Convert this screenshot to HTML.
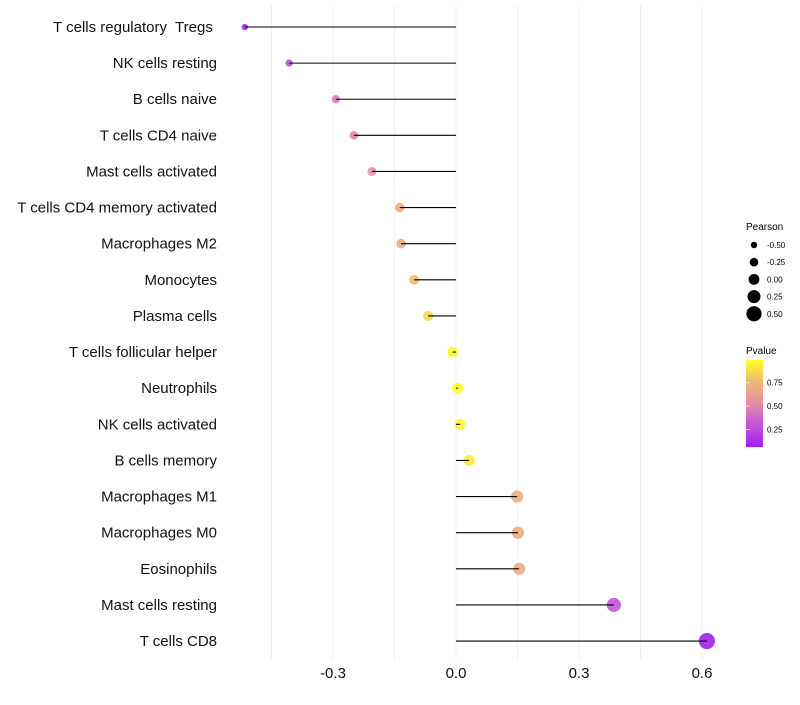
<!DOCTYPE html>
<html><head><meta charset="utf-8"><style>
body{margin:0;background:#fff;font-family:"Liberation Sans",sans-serif}
svg text{font-family:"Liberation Sans",sans-serif}
</style></head><body>
<svg id="chart" width="800" height="700">
<defs><linearGradient id="pg" x1="0" y1="1" x2="0" y2="0">
<stop offset="0" stop-color="#a020f0"/><stop offset="0.3" stop-color="#c95fcf"/><stop offset="0.5" stop-color="#e08fa5"/><stop offset="0.75" stop-color="#f0b873"/><stop offset="1" stop-color="#ffff20"/></linearGradient></defs>
<g id="grid"></g>
<g id="marks"></g>
<g id="ylabels"></g>
<g id="xlabels"></g>
<g>
<text x="746" y="230" font-size="10">Pearson</text>
<g id="sizeleg"></g>
</g>
<g>
<text x="746" y="354" font-size="10">Pvalue</text>
<rect x="746" y="360" width="17" height="87" fill="url(#pg)"/>
<g id="colleg"></g>
</g>
</svg>
<script>
const categories=["T cells regulatory  Tregs","NK cells resting","B cells naive","T cells CD4 naive","Mast cells activated","T cells CD4 memory activated","Macrophages M2","Monocytes","Plasma cells","T cells follicular helper","Neutrophils","NK cells activated","B cells memory","Macrophages M1","Macrophages M0","Eosinophils","Mast cells resting","T cells CD8"];
const pearson=[-0.515,-0.407,-0.293,-0.249,-0.205,-0.137,-0.134,-0.102,-0.068,-0.008,0.004,0.01,0.032,0.149,0.151,0.154,0.385,0.612];
const pvalues=[0.1,0.25,0.45,0.5,0.55,0.7,0.7,0.78,0.86,0.97,0.98,0.96,0.92,0.7,0.7,0.7,0.3,0.05];
const xTicks=[-0.3,0,0.3,0.6];
const xTickLabels=["-0.3","0.0","0.3","0.6"];
const minorTicks=[-0.45,-0.15,0.15,0.45];
const sizeLegendVals=[-0.5,-0.25,0,0.25,0.5];
const sizeLegendLabels=["-0.50","-0.25","0.00","0.25","0.50"];
const colorLegendVals=[0.25,0.5,0.75];
const colorLegendLabels=["0.25","0.50","0.75"];
const NS="http://www.w3.org/2000/svg";
const X=v=>456+v*410;
const Y=i=>27+i*36.12;
const R=v=>Math.max(2,5.4+4.4*v);
const stops=[[0,[160,32,240]],[0.3,[201,95,207]],[0.5,[224,143,165]],[0.75,[240,184,115]],[1,[255,255,32]]];
const PV=p=>{const t=Math.min(1,Math.max(0,(p-0.07)/0.92));for(let k=1;k<stops.length;k++){if(t<=stops[k][0]){const a=stops[k-1],b=stops[k],f=(t-a[0])/(b[0]-a[0]);return "rgb("+a[1].map((c,j)=>Math.round(c+(b[1][j]-c)*f)).join(",")+")";}}return "rgb(255,255,32)";};
function mk(t,a,p){const e=document.createElementNS(NS,t);for(const k in a)e.setAttribute(k,a[k]);p.appendChild(e);return e;}
const grid=document.getElementById('grid');
minorTicks.concat(xTicks).forEach(v=>{const l=mk('line',{x1:X(v),x2:X(v),y1:5,y2:660,stroke:'#f0f0f0','stroke-width':1},grid);

});
const marks=document.getElementById('marks'),yl=document.getElementById('ylabels'),xl=document.getElementById('xlabels');
categories.forEach((c,i)=>{
const pt=mk('circle',{cx:X(pearson[i]),cy:Y(i),r:R(pearson[i]),fill:PV(pvalues[i]),'fill-opacity':0.9},marks);


const ln=mk('line',{x1:X(0),x2:X(pearson[i]),y1:Y(i),y2:Y(i),stroke:'#000','stroke-width':1.1},marks);


const t=mk('text',{x:217,y:Y(i)+5,'text-anchor':'end','font-size':15,fill:'#111',style:'white-space:pre'},yl);t.textContent=c+(i===0?" ":"");


});
xTicks.forEach((v,i)=>{const t=mk('text',{x:X(v),y:678,'text-anchor':'middle','font-size':15,fill:'#111'},xl);t.textContent=xTickLabels[i];

});
const sl=document.getElementById('sizeleg');
sizeLegendVals.forEach((v,i)=>{const y=245+i*17.2;
const c=mk('circle',{cx:754,cy:y,r:R(v),fill:'#000'},sl);


const t=mk('text',{x:767,y:y+3,'font-size':8},sl);t.textContent=sizeLegendLabels[i];

});
const cl=document.getElementById('colleg');
colorLegendVals.forEach((v,i)=>{const y=406-(v-0.5)*94;
const l=mk('line',{x1:746,x2:750,y1:y,y2:y,stroke:'#fff','stroke-width':0.6},cl);


const t=mk('text',{x:767,y:y+3,'font-size':8},cl);t.textContent=colorLegendLabels[i];

});
</script>
</body></html>
